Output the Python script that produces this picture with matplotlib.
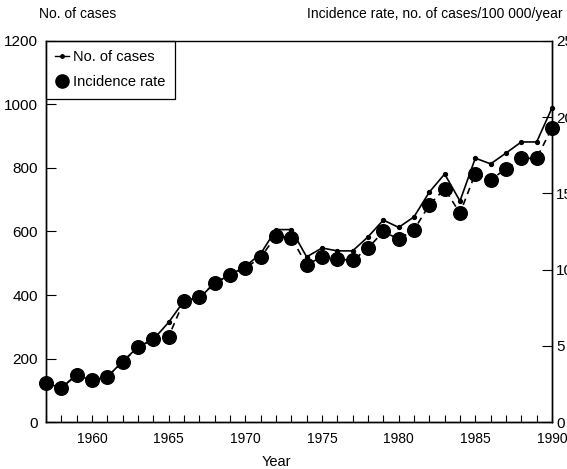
import matplotlib
matplotlib.use("Agg")
import matplotlib.pyplot as plt
from matplotlib.lines import Line2D

plt.rcParams["font.family"] = ["Liberation Sans", "DejaVu Sans"]

# yearly counts and incidence per 100 000
years = list(range(1957, 1991))
cases = [123, 107, 148, 131, 142, 191, 236, 260, 314, 381,
         390, 438, 463, 490, 530, 606, 606, 520, 548, 539,
         539, 583, 636, 613, 646, 724, 781, 696, 831, 813,
         847, 882, 882, 989]
incidence = [2.55, 2.25, 3.1, 2.75, 2.95, 3.95, 4.9, 5.45, 5.6, 7.95,
             8.2, 9.1, 9.65, 10.1, 10.8, 12.2, 12.1, 10.3, 10.85, 10.7,
             10.6, 11.4, 12.5, 12.0, 12.6, 14.25, 15.3, 13.7, 16.3, 15.9,
             16.6, 17.3, 17.3, 19.3]

left_ticks = [0, 200, 400, 600, 800, 1000, 1200]
right_ticks = [0, 5, 10, 15, 20, 25]
year_labels = [str(y) if y % 5 == 0 else "" for y in years]

fig = plt.figure(figsize=(5.67, 4.69), dpi=100)
ax = fig.add_axes([0.0811, 0.1002, 0.8924, 0.8124])
ax2 = ax.twinx()

ax.plot(years, cases, color="black", lw=1.2, marker="o", ms=2.8, zorder=3, clip_on=False)
ax2.plot(years, incidence, color="black", lw=1.2, ls=(0, (4, 3)), marker="o", ms=9.8,
         zorder=3, clip_on=False)

ax.set_xlim(1957, 1990)
ax.set_ylim(0, 1200)
ax2.set_ylim(0, 25)

ax.set_xticks(years)
ax.set_xticklabels(year_labels, fontsize=10)
ax.set_yticks(left_ticks)
ax.set_yticklabels([str(t) for t in left_ticks], fontsize=11)
ax2.set_yticks(right_ticks)
ax2.set_yticklabels([str(t) for t in right_ticks], fontsize=11)

ax.tick_params(axis="x", direction="in", length=5, width=0.8, pad=7)
ax.tick_params(axis="y", direction="in", length=7, width=0.8, pad=6)
ax2.tick_params(axis="y", direction="in", length=7, width=0.8, pad=3)

for a in (ax, ax2):
    for s in a.spines.values():
        s.set_linewidth(1.0)
ax.spines["top"].set_linewidth(0.6)

ax.set_xlabel("Year", fontsize=10.5, va="center")
ax.xaxis.set_label_coords(0.455, -0.105)

fig.text(0.068, 0.955, "No. of cases", fontsize=10, ha="left", va="bottom")
fig.text(0.993, 0.955, "Incidence rate, no. of cases/100 000/year", fontsize=10,
         ha="right", va="bottom")

handles = [
    Line2D([], [], color="black", lw=1.0, marker="o", ms=2.5),
    Line2D([], [], color="black", ls="none", marker="o", ms=9.5),
]
leg = ax.legend(handles, ["No. of cases", "Incidence rate"], loc="upper left",
                bbox_to_anchor=(0.0, 1.0), borderaxespad=0, fontsize=10.5,
                handlelength=0.9, handletextpad=0.3, labelspacing=0.75,
                borderpad=0.65, fancybox=False, framealpha=1)
leg.get_frame().set_edgecolor("black")
leg.get_frame().set_linewidth(0.9)
leg.set_zorder(5)

fig.savefig("out.png", dpi=100)
